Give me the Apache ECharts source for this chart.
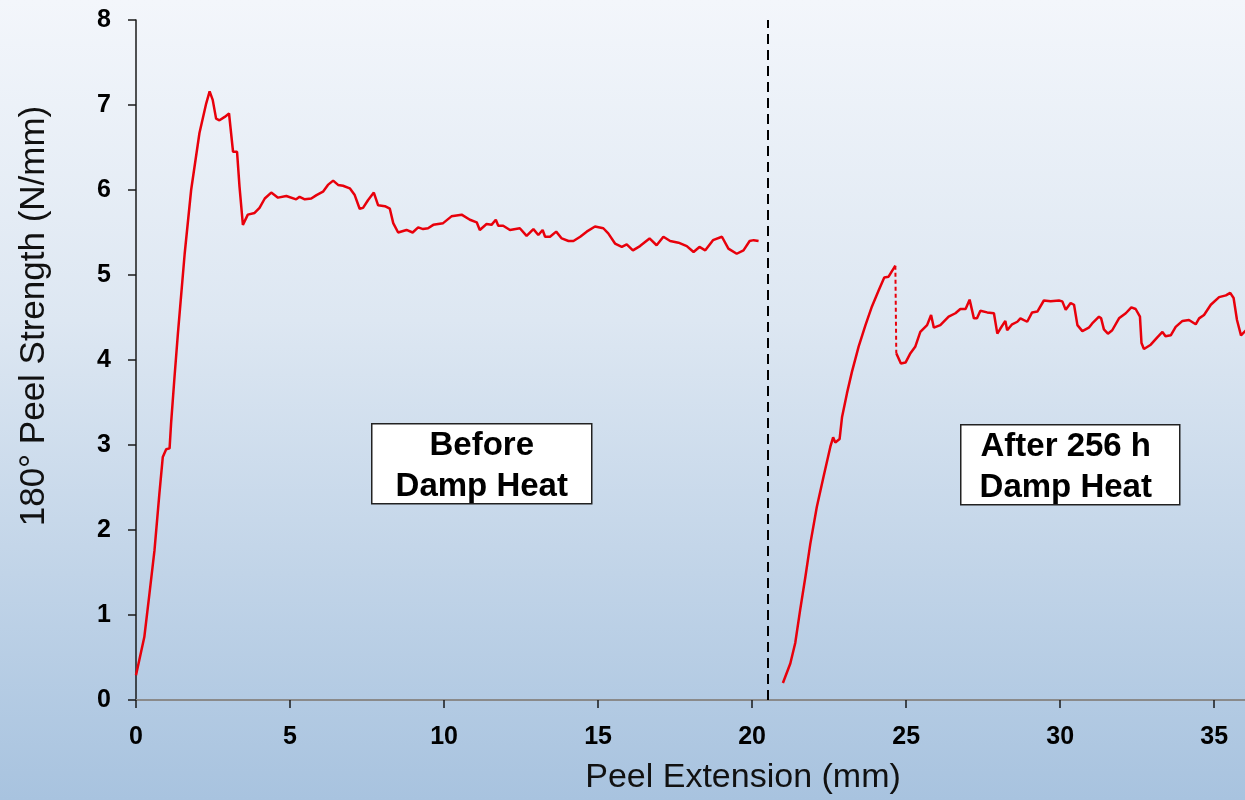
<!DOCTYPE html>
<html>
<head>
<meta charset="utf-8">
<title>180° Peel Strength</title>
<script src="https://cdn.jsdelivr.net/npm/echarts@6/dist/echarts.min.js"></script>
<style>
    html, body {
        margin: 0;
        padding: 0;
    }
    body {
        background: linear-gradient(to bottom, #f3f6fb 0%, #dde7f2 40%, #a8c3df 100%);
    }
    #chart {
        width: 1245px;
        height: 800px;
    }
</style>
</head>
<body>
<div id="chart"></div>
<script>
// 数据: 剥离伸长 (mm) 和 剥离强度 (N/mm)
let beforeX = [0, 0.27, 0.44, 0.6, 0.76, 0.87, 0.98, 1.09, 1.14, 1.25, 1.36, 1.47, 1.58, 1.79, 2.06, 2.28, 2.39, 2.49, 2.6, 2.71,
    2.88, 3.02, 3.15, 3.28, 3.36, 3.47, 3.63, 3.85, 4.01, 4.18, 4.39, 4.61, 4.88, 5.2, 5.31, 5.48, 5.69, 5.86, 6.07, 6.23,
    6.4, 6.56, 6.72, 6.94, 7.1, 7.26, 7.37, 7.53, 7.72, 7.86, 8.08, 8.24, 8.35, 8.51, 8.78, 8.98, 9.16, 9.32, 9.48, 9.65,
    9.97, 10.24, 10.57, 10.84, 11.06, 11.16, 11.38, 11.54, 11.68, 11.76, 11.92, 12.14, 12.46, 12.68, 12.9, 13.06, 13.2, 13.28, 13.44, 13.64,
    13.82, 14.04, 14.2, 14.42, 14.63, 14.9, 15.17, 15.33, 15.55, 15.77, 15.93, 16.13, 16.36, 16.67, 16.9, 17.12, 17.34, 17.61, 17.88, 18.1,
    18.29, 18.48, 18.73, 19.02, 19.23, 19.5, 19.72, 19.92, 20.05, 20.21]
let beforeY = [0.29, 0.74, 1.26, 1.76, 2.43, 2.86, 2.95, 2.96, 3.26, 3.8, 4.31, 4.78, 5.25, 6.0, 6.67, 7.02, 7.16, 7.06, 6.84, 6.82,
    6.86, 6.9, 6.45, 6.45, 6.04, 5.59, 5.71, 5.73, 5.79, 5.9, 5.97, 5.91, 5.93, 5.89, 5.92, 5.89, 5.9, 5.94, 5.98, 6.06,
    6.11, 6.06, 6.05, 6.02, 5.94, 5.78, 5.79, 5.88, 5.97, 5.82, 5.81, 5.78, 5.61, 5.5, 5.53, 5.5, 5.56, 5.54, 5.55, 5.59,
    5.61, 5.69, 5.71, 5.65, 5.62, 5.53, 5.6, 5.59, 5.65, 5.58, 5.58, 5.53, 5.55, 5.46, 5.54, 5.47, 5.53, 5.45, 5.45, 5.51,
    5.43, 5.4, 5.4, 5.45, 5.51, 5.57, 5.55, 5.49, 5.37, 5.33, 5.36, 5.29, 5.34, 5.43, 5.35, 5.45, 5.4, 5.38, 5.34, 5.27,
    5.33, 5.29, 5.41, 5.45, 5.31, 5.25, 5.29, 5.4, 5.41, 5.4]

// 湿热老化后: 上升段
let riseX = [21.0, 21.24, 21.4, 21.56, 21.73, 21.89, 22.1, 22.32, 22.54, 22.63, 22.7, 22.84, 22.92, 23.08, 23.24, 23.46, 23.68, 23.89, 24.11, 24.29,
    24.43, 24.65]
let riseY = [0.2, 0.43, 0.67, 1.06, 1.45, 1.84, 2.27, 2.63, 2.98, 3.09, 3.03, 3.07, 3.33, 3.61, 3.86, 4.16, 4.41, 4.63, 4.82, 4.97,
    4.98, 5.11]

// 湿热老化后: 平台段
let plateauX = [24.68, 24.83, 24.98, 25.14, 25.3, 25.46, 25.68, 25.81, 25.9, 26.11, 26.38, 26.6, 26.76, 26.93, 27.06, 27.2, 27.3, 27.41, 27.63, 27.85,
    27.96, 28.06, 28.22, 28.28, 28.44, 28.61, 28.71, 28.93, 29.09, 29.26, 29.47, 29.69, 29.96, 30.07, 30.18, 30.34, 30.45, 30.56, 30.72, 30.93,
    31.04, 31.26, 31.33, 31.42, 31.55, 31.69, 31.91, 32.13, 32.31, 32.45, 32.59, 32.64, 32.72, 32.94, 33.16, 33.32, 33.42, 33.59, 33.75, 33.97,
    34.18, 34.4, 34.51, 34.67, 34.89, 35.16, 35.38, 35.52, 35.63, 35.74, 35.87, 36.03]
let plateauY = [4.08, 3.96, 3.97, 4.08, 4.16, 4.33, 4.41, 4.53, 4.38, 4.41, 4.51, 4.55, 4.6, 4.6, 4.71, 4.49, 4.49, 4.58, 4.56, 4.55,
    4.31, 4.37, 4.46, 4.35, 4.42, 4.45, 4.49, 4.45, 4.56, 4.57, 4.7, 4.69, 4.7, 4.69, 4.59, 4.67, 4.65, 4.41, 4.34, 4.38,
    4.43, 4.51, 4.49, 4.36, 4.31, 4.35, 4.49, 4.55, 4.62, 4.6, 4.51, 4.2, 4.13, 4.18, 4.27, 4.33, 4.28, 4.29, 4.39, 4.46,
    4.47, 4.42, 4.49, 4.53, 4.65, 4.74, 4.76, 4.79, 4.73, 4.47, 4.29, 4.35]

// 分隔线位置
let dividerX = 20.5

// 坐标轴
let xMin = 0
let xMax = 36
let xStep = 5
let yMin = 0
let yMax = 8
let yStep = 1

window.onload = function () {
    let chart = echarts.init(document.getElementById('chart'))

    // 把 x, y 两个数组合成点
    function zip(xs, ys) {
        let arr = []
        for (let i = 0; i < xs.length; i++) {
            arr.push([xs[i], ys[i]])
        }
        return arr
    }

    let red = '#e8000b'
    let font = 'Liberation Sans, Arial, sans-serif'
    let lastRise = riseX.length - 1

    let option = {
        backgroundColor: 'transparent',
        animation: false,
        grid: {
            left: 136,
            right: 0,
            top: 20,
            bottom: 100
        },
        xAxis: [{
            type: 'value',
            min: xMin,
            max: xMax,
            interval: xStep,
            splitLine: { show: false },
            axisLine: { onZero: false, lineStyle: { color: '#1a1a1a', width: 1.5 } },
            axisTick: { length: 8, lineStyle: { color: '#1a1a1a', width: 1.5 } },
            axisLabel: {
                showMaxLabel: false,
                margin: 25,
                color: '#000',
                fontFamily: font,
                fontWeight: 'bold',
                fontSize: 25
            }
        }, {
            // 顶部灰色边线
            type: 'value',
            position: 'top',
            min: xMin,
            max: xMax,
            axisLine: { show: true, lineStyle: { color: '#8a8a8a', width: 2 } },
            axisTick: { show: false },
            axisLabel: { show: false },
            splitLine: { show: false }
        }],
        yAxis: {
            type: 'value',
            min: yMin,
            max: yMax,
            interval: yStep,
            splitLine: { show: false },
            axisLine: { show: true, lineStyle: { color: '#1a1a1a', width: 1.5 } },
            axisTick: { show: true, length: 8, lineStyle: { color: '#1a1a1a', width: 1.5 } },
            axisLabel: {
                margin: 25,
                color: '#000',
                fontFamily: font,
                fontWeight: 'bold',
                fontSize: 25
            }
        },
        series: [{
            name: 'Before Damp Heat',
            type: 'line',
            data: zip(beforeX, beforeY),
            showSymbol: false,
            lineStyle: { color: red, width: 2.5 },
            markLine: {
                silent: true,
                symbol: ['none', 'none'],
                label: { show: false },
                lineStyle: { color: '#000', width: 2, type: [10, 6] },
                data: [{ xAxis: dividerX }]
            }
        }, {
            name: 'After 256 h Damp Heat',
            type: 'line',
            data: zip(riseX, riseY),
            showSymbol: false,
            lineStyle: { color: red, width: 2.5 }
        }, {
            // 断点处的虚线
            name: 'drop',
            type: 'line',
            data: [[riseX[lastRise], riseY[lastRise]], [plateauX[0], plateauY[0]]],
            showSymbol: false,
            lineStyle: { color: red, width: 2, type: [4, 3] }
        }, {
            name: 'After 256 h Damp Heat plateau',
            type: 'line',
            data: zip(plateauX, plateauY),
            showSymbol: false,
            lineStyle: { color: red, width: 2.5 }
        }],
        graphic: [{
            type: 'group',
            left: 371,
            top: 423,
            children: [{
                type: 'rect',
                shape: { x: 0, y: 0, width: 220, height: 80 },
                style: { fill: '#fff', stroke: '#222', lineWidth: 1.5 }
            }, {
                type: 'text',
                x: 110,
                y: 43,
                style: {
                    text: 'Before\nDamp Heat',
                    align: 'center',
                    verticalAlign: 'middle',
                    lineHeight: 41,
                    font: 'bold 33px ' + font,
                    fill: '#000'
                }
            }]
        }, {
            type: 'group',
            left: 960,
            top: 424,
            children: [{
                type: 'rect',
                shape: { x: 0, y: 0, width: 219, height: 80 },
                style: { fill: '#fff', stroke: '#222', lineWidth: 1.5 }
            }, {
                type: 'text',
                x: 105,
                y: 43,
                style: {
                    text: 'After 256 h\nDamp Heat',
                    align: 'center',
                    verticalAlign: 'middle',
                    lineHeight: 41,
                    font: 'bold 33px ' + font,
                    fill: '#000'
                }
            }]
        }, {
            // 坐标轴标题
            type: 'text',
            x: 743,
            y: 778,
            style: {
                text: 'Peel Extension (mm)',
                align: 'center',
                verticalAlign: 'middle',
                font: '34px ' + font,
                fill: '#111'
            }
        }, {
            type: 'text',
            x: 34,
            y: 316,
            rotation: Math.PI / 2,
            style: {
                text: '180° Peel Strength (N/mm)',
                align: 'center',
                verticalAlign: 'middle',
                font: '35px ' + font,
                fill: '#111'
            }
        }]
    }

    chart.setOption(option)
    window.addEventListener('resize', function () {
        chart.resize()
    })
}
</script>
</body>
</html>
